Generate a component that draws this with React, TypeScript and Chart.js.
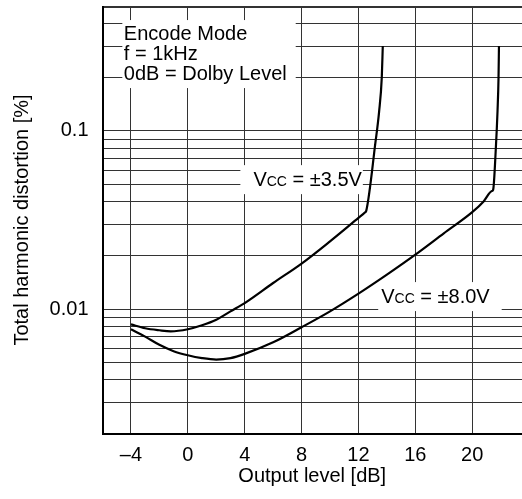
import React, { useEffect, useRef } from 'react';
import { Chart, registerables } from 'chart.js';

Chart.register(...registerables);

// ---- data ----
const X_MIN = -6;
const X_MAX = 23.5;
const X_TICKS = [-4, 0, 4, 8, 12, 16, 20];

const Y_MIN = 0.002;
const Y_MAX = 0.5;
const Y_GRID = [
  0.002, 0.003, 0.004, 0.005, 0.006, 0.007, 0.008, 0.009,
  0.01, 0.02, 0.03, 0.04, 0.05, 0.06, 0.07, 0.08, 0.09,
  0.1, 0.2, 0.3, 0.4, 0.5,
];
const Y_LABEL_VALUES = [0.01, 0.1];
const Y_LABEL_TEXT = ['0.01', '0.1'];

// Vcc = ±3.5V
const VCC35_X = [-4, -3, -2, -1.2, 0, 1, 2, 3, 4, 6, 8, 10, 12, 12.45, 12.55, 13.2, 13.45, 13.64, 13.71];
const VCC35_Y = [0.0082, 0.0078, 0.0076, 0.0075, 0.0077, 0.0081, 0.0087, 0.0097, 0.0108, 0.014, 0.018, 0.024, 0.0325, 0.0348, 0.0357, 0.087, 0.128, 0.2, 0.3];

// Vcc = ±8.0V
const VCC80_X = [-4, -3, -2, -1, 0, 1, 2, 3, 4, 6, 8, 10, 12, 14, 16, 18, 20, 20.8, 21.38, 21.47, 21.66, 21.78, 21.85, 21.88];
const VCC80_Y = [0.0077, 0.007, 0.0063, 0.0058, 0.0055, 0.0053, 0.0052, 0.0053, 0.0056, 0.0065, 0.0079, 0.0097, 0.0122, 0.0156, 0.0202, 0.0266, 0.035, 0.0402, 0.046, 0.0467, 0.08, 0.13, 0.2, 0.3];

const NOTE_LINES = ['Encode Mode', 'f = 1kHz', '0dB = Dolby Level'];
const NOTE_POS = { x: -4.5, y: 0.324 };
const LABEL35 = { x: 4.61, y: 0.049, rest: ' = ±3.5V' };
const LABEL80 = { x: 13.6, y: 0.0108, rest: ' = ±8.0V' };

const FONT = "'Liberation Sans', Arial, Helvetica, sans-serif";

function drawVcc(ctx: CanvasRenderingContext2D, px: number, py: number, rest: string, padL: number, padR: number) {
  ctx.font = `20px ${FONT}`;
  const wV = ctx.measureText('V').width;
  const wR = ctx.measureText(rest).width;
  ctx.font = `14px ${FONT}`;
  const wC = ctx.measureText('CC').width;
  const total = wV + wC + wR;
  ctx.fillStyle = '#fff';
  ctx.fillRect(px - padL, py - 21, total + padL + padR, 29);
  ctx.fillStyle = '#000';
  ctx.textBaseline = 'alphabetic';
  ctx.textAlign = 'left';
  ctx.font = `20px ${FONT}`;
  ctx.fillText('V', px, py);
  ctx.font = `14px ${FONT}`;
  ctx.fillText('CC', px + wV, py);
  ctx.font = `20px ${FONT}`;
  ctx.fillText(rest, px + wV + wC, py);
}

const notesPlugin = {
  id: 'notes',
  beforeDatasetsDraw(chart: any) {
    const { ctx, scales } = chart;
    const xs = scales.x;
    const ys = scales.y;
    ctx.save();
    const nx = xs.getPixelForValue(NOTE_POS.x);
    const ny = ys.getPixelForValue(NOTE_POS.y);
    ctx.font = `20px ${FONT}`;
    let maxW = 0;
    NOTE_LINES.forEach((t) => { maxW = Math.max(maxW, ctx.measureText(t).width); });
    ctx.fillStyle = '#fff';
    ctx.fillRect(nx - 1.5, ny - 20, maxW + 10.5, 20 * (NOTE_LINES.length - 1) + 28);
    ctx.fillStyle = '#000';
    ctx.textBaseline = 'alphabetic';
    ctx.textAlign = 'left';
    NOTE_LINES.forEach((t, i) => ctx.fillText(t, nx, ny + i * 20));
    drawVcc(ctx, xs.getPixelForValue(LABEL35.x), ys.getPixelForValue(LABEL35.y), LABEL35.rest, 13, 1);
    drawVcc(ctx, xs.getPixelForValue(LABEL80.x), ys.getPixelForValue(LABEL80.y), LABEL80.rest, 3, 12);
    ctx.restore();
  },
};

export default function App() {
  const canvasRef = useRef<HTMLCanvasElement | null>(null);

  useEffect(() => {
    if (!canvasRef.current) return;
    Chart.defaults.font.family = FONT;
    Chart.defaults.color = '#000';
    const chart = new Chart(canvasRef.current, {
      type: 'line',
      data: {
        datasets: [
          {
            label: 'Vcc = ±3.5V',
            data: VCC35_X.map((x, i) => ({ x, y: VCC35_Y[i] })),
            borderColor: '#000',
            borderWidth: 2.2,
            pointRadius: 0,
            cubicInterpolationMode: 'monotone',
            fill: false,
          },
          {
            label: 'Vcc = ±8.0V',
            data: VCC80_X.map((x, i) => ({ x, y: VCC80_Y[i] })),
            borderColor: '#000',
            borderWidth: 2.2,
            pointRadius: 0,
            cubicInterpolationMode: 'monotone',
            fill: false,
          },
        ],
      },
      options: {
        animation: false,
        responsive: true,
        maintainAspectRatio: false,
        layout: { padding: { top: 6.5, left: 0, right: 0, bottom: 0 } },
        plugins: {
          legend: { display: false },
          tooltip: { enabled: false },
        },
        scales: {
          x: {
            type: 'linear',
            min: X_MIN,
            max: X_MAX,
            afterBuildTicks: (scale: any) => {
              scale.ticks = X_TICKS.map((v) => ({ value: v }));
            },
            afterFit: (scale: any) => {
              scale.height = 65.5;
              scale.paddingLeft = 0;
              scale.paddingRight = 0;
              scale.paddingTop = 0;
              scale.paddingBottom = 0;
            },
            grid: {
              color: '#333',
              lineWidth: 1,
              drawTicks: false,
            },
            border: { display: true, color: '#000', width: 2 },
            ticks: {
              autoSkip: false,
              maxRotation: 0,
              padding: 10,
              font: { size: 20 },
              color: '#000',
              callback: (v: any) => (Number(v) < 0 ? '–' + Math.abs(Number(v)) : String(v)),
            },
            title: {
              display: true,
              text: 'Output level [dB]',
              font: { size: 20 },
              color: '#000',
              padding: { top: 0, bottom: 11 },
            },
          },
          y: {
            type: 'logarithmic',
            min: Y_MIN,
            max: Y_MAX,
            afterBuildTicks: (scale: any) => {
              scale.ticks = Y_GRID.map((v) => ({ value: v }));
            },
            afterFit: (scale: any) => {
              scale.width = 102.5;
              scale.paddingLeft = 0;
              scale.paddingRight = 0;
              scale.paddingTop = 0;
              scale.paddingBottom = 0;
            },
            grid: {
              color: '#333',
              lineWidth: (c: any) => (c.tick && c.tick.value === Y_MAX ? 2 : 1),
              drawTicks: false,
            },
            border: { display: true, color: '#000', width: 2 },
            ticks: {
              autoSkip: false,
              padding: 14,
              font: { size: 20 },
              color: '#000',
              callback: (v: any) => {
                const i = Y_LABEL_VALUES.indexOf(Number(v));
                return i >= 0 ? Y_LABEL_TEXT[i] : '';
              },
            },
            title: {
              display: true,
              text: 'Total harmonic distortion [%]',
              font: { size: 20 },
              color: '#000',
              padding: { top: 10, bottom: 0 },
            },
          },
        },
      },
      plugins: [notesPlugin],
    } as any);
    return () => chart.destroy();
  }, []);

  return (
    <div style={{ position: 'fixed', left: 0, top: 0, width: 522, height: 499, background: '#fff' }}>
      <canvas ref={canvasRef} />
    </div>
  );
}
